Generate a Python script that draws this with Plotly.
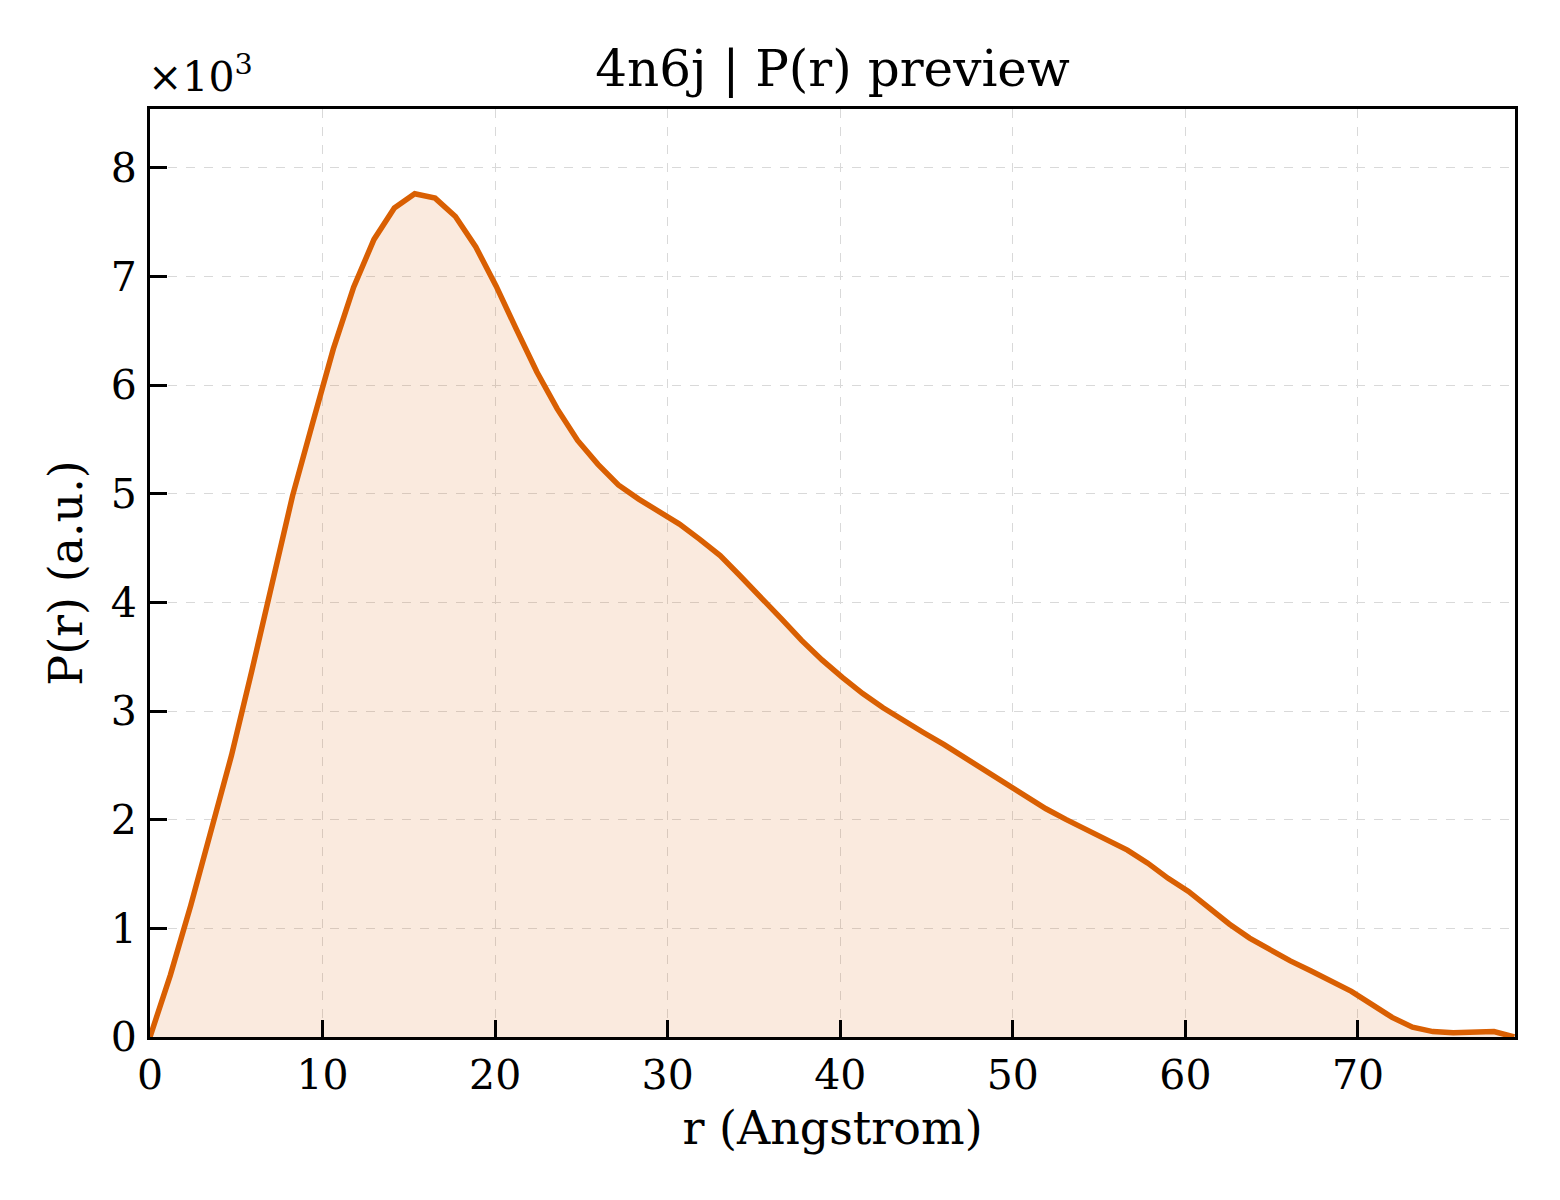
import plotly.graph_objects as go

r_step = 1.18
pr_values = [
    0, 570, 1210, 1890, 2590, 3370, 4200, 4980, 5660, 6330,
    6900, 7340, 7630, 7760, 7720, 7550, 7270, 6910, 6510, 6120,
    5780, 5490, 5270, 5080, 4950, 4840, 4720, 4580, 4430, 4240,
    4050, 3850, 3650, 3470, 3310, 3160, 3030, 2910, 2800, 2690,
    2570, 2450, 2330, 2210, 2100, 2000, 1910, 1820, 1720, 1600,
    1460, 1340, 1190, 1040, 910, 800, 700, 610, 520, 420,
    300, 180, 90, 50, 40, 50, 50, 0,
]
r_values = [round(k * r_step, 3) for k in range(len(pr_values))]

x_ticks = [0, 10, 20, 30, 40, 50, 60, 70]
y_ticks = [0, 1, 2, 3, 4, 5, 6, 7, 8]
scale = 1000  # shown as x10^3 offset

line_color = "#d95f02"
serif = "DejaVu Serif, Liberation Serif, serif"

fig = go.Figure()
fig.add_trace(go.Scatter(
    x=r_values, y=[v / scale for v in pr_values],
    mode="lines", line=dict(color=line_color, width=5.5),
    fill="tozeroy", fillcolor="rgba(217,95,2,0.13)",
    showlegend=False,
))

axis_common = dict(
    showline=True, linecolor="black", linewidth=3, mirror=True,
    ticks="inside", ticklen=17, tickwidth=2.5, tickcolor="black",
    showgrid=True, gridcolor="#d9d9d9", gridwidth=1.4, griddash="dash",
    zeroline=False, tickfont=dict(family=serif, size=41, color="black"),
)

fig.update_xaxes(
    range=[0, 79.1], tickvals=x_ticks, ticklabelstandoff=0,
    title=dict(text="r (Angstrom)", font=dict(family=serif, size=46, color="black"), standoff=14),
    **axis_common,
)
fig.update_yaxes(
    range=[0, 8.54], tickvals=y_ticks, ticklabelstandoff=2,
    title=dict(text="P(r) (a.u.)", font=dict(family=serif, size=46, color="black"), standoff=14),
    **axis_common,
)

fig.add_annotation(
    text="×10<sup>3</sup>", xref="paper", yref="paper", x=0, y=1,
    xanchor="left", yanchor="bottom", yshift=6, xshift=-4, showarrow=False,
    font=dict(family=serif, size=41, color="black"),
)

fig.update_layout(
    width=1560, height=1200,
    margin=dict(l=142, r=53, t=101, b=171),
    paper_bgcolor="white", plot_bgcolor="white",
    title=dict(text="4n6j | P(r) preview", x=0.5, xref="paper",
               y=1 - 60 / 1200, yref="container", yanchor="middle",
               font=dict(family=serif, size=50, color="black")),
)

fig.write_html("out.html")
